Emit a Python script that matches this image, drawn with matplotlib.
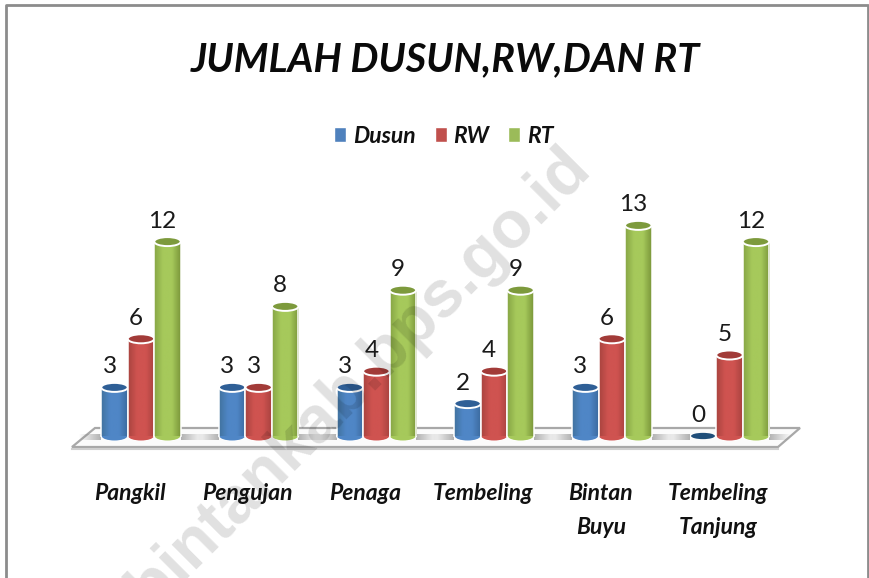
import numpy as np
import matplotlib
matplotlib.use('Agg')
import matplotlib.pyplot as plt
from matplotlib.colors import LinearSegmentedColormap
from matplotlib.patches import Ellipse, Polygon, Patch

categories = ['Pangkil', 'Pengujan', 'Penaga', 'Tembeling', 'Bintan\nBuyu', 'Tembeling\nTanjung']
dusun = [3, 3, 3, 2, 3, 0]
rw = [6, 3, 4, 4, 6, 5]
rt = [12, 8, 9, 9, 13, 12]
series_names = ['Dusun', 'RW', 'RT']

# side colours of each cylinder: edge, middle, edge
blue = ['#41739f', '#4f86c6', '#3c6b9f']
red = ['#a9443f', '#cf5350', '#a8423f']
green = ['#87a545', '#a6c95b', '#7a963a']
tops = ['#2f5f96', '#a23b38', '#7d9a3c']
legend_colors = ['#4f81bd', '#c0504d', '#9bbb59']

plt.rcParams['font.family'] = ['Lato', 'DejaVu Sans']

W, H = 869, 578
fig = plt.figure(figsize=(W / 100, H / 100), dpi=100)
ax = fig.add_axes([0, 0, 1, 1])

# axes covers the whole picture, 1 category = 117.7 px and 1 unit = 16.2 px
step, unit = 117.7, 16.2
x0, y0 = 141, 436
ax.set_xlim(-x0 / step, (W - x0) / step)
ax.set_ylim(-(H - y0) / unit, y0 / unit)
ax.axis('off')
bw = 26.5 / step
eh = 9 / unit


def px(x, y):
    return (x - x0) / step, (y0 - y) / unit


# frame
xs, ys = zip(*[px(*p) for p in [(6, 578), (6, 4.5), (868, 4.5), (868, 578)]])
ax.plot(xs, ys, color='#8c8c8c', lw=2, zorder=1)

# floor
floor = [px(72, 447), px(95, 428), px(800, 428), px(778, 447)]
ax.add_patch(Polygon(floor, closed=True, fc='#fbfbfb', ec='#a8a8a8', lw=1.6, zorder=2))
ax.plot(*zip(px(72, 449), px(778, 449)), color='#cfcfcf', lw=1.5, zorder=2)

# shadows on the floor
shade = np.zeros((1, 60, 4))
shade[..., :3] = 0.5
shade[..., 3] = np.linspace(0.6, 0, 60)
for i in range(len(categories)):
    for side in (1, -1):
        xa = i + side * 1.5 * bw
        xb = i + side * (1.5 * bw + 22 / step)
        ax.imshow(shade, extent=(xa, xb, -4 / unit, 2 / unit), aspect='auto', zorder=2.5,
                  interpolation='bilinear')


def cylinder(xc, val, cols, top, z):
    left, right = xc - bw / 2, xc + bw / 2
    if val == 0:
        ax.add_patch(Ellipse((xc, 0), bw * 0.9, eh * 0.7, fc='#1f4e79', ec='none', zorder=z))
        return
    cmap = LinearSegmentedColormap.from_list('c', [cols[0], cols[1], cols[1], cols[2]])
    bar = ax.bar(xc, val, bw, color='none', edgecolor='none', zorder=z)[0]
    grad = np.linspace(0, 1, 64).reshape(1, -1)
    ax.add_patch(Ellipse((xc, 0), bw, eh, fc=cols[1], ec='white', lw=1, zorder=z))
    im = ax.imshow(grad, extent=(left, right, 0, val), aspect='auto', cmap=cmap, zorder=z + 0.1)
    im.set_clip_path(bar)
    ax.add_patch(Ellipse((xc, 0), bw - 1 / step, eh, fc=cols[1], ec='none', zorder=z + 0.05))
    ax.plot([left, left], [0, val], color='white', lw=1.1, zorder=z + 0.2)
    ax.plot([right, right], [0, val], color='white', lw=1.1, zorder=z + 0.2)
    ax.add_patch(Ellipse((xc, val), bw, eh, fc=top, ec='white', lw=1.4, zorder=z + 0.3))


offsets = [-bw, 0, bw]
label_shift = -5 / step
cat_shift = -11 / step
for i in range(len(categories)):
    for j, (vals, cols) in enumerate(zip([dusun, rw, rt], [blue, red, green])):
        xc = i + offsets[j]
        cylinder(xc, vals[i], cols, tops[j], 3 + j)
        ax.text(xc + label_shift, vals[i] + 10 / unit, str(vals[i]), ha='center', va='bottom',
                fontsize=17.5, color='#1a1a1a', zorder=8)
    ax.text(i + cat_shift, -2.9, categories[i], ha='center', va='top', fontsize=16.5,
            style='italic', weight='bold', color='#111111', linespacing=1.74, zorder=8)

ax.text(*px(445, 60), 'JUMLAH DUSUN,RW,DAN RT', ha='center', va='center', fontsize=28.5,
        style='italic', weight='bold', color='#0a0a0a', zorder=8)

handles = [Patch(fc=c, ec='white') for c in legend_colors]
leg = ax.legend(handles, series_names, loc='center', bbox_to_anchor=(444 / W, 1 - 136 / H),
                bbox_transform=fig.transFigure, ncol=3, frameon=False,
                prop={'size': 16.5, 'style': 'italic', 'weight': 'bold'},
                handlelength=0.52, handleheight=0.6, handletextpad=0.3, columnspacing=0.83)
for t in leg.get_texts():
    t.set_color('#111111')

# site watermark across the chart
ax.text(*px(593, 172), '//bintankab.bps.go.id', ha='right', va='baseline', rotation=45,
        rotation_mode='anchor', fontsize=47.5, weight='bold', family=['Liberation Sans'],
        color='black', alpha=0.12, zorder=7, clip_on=True)

ax.set_xlim(-x0 / step, (W - x0) / step)
ax.set_ylim(-(H - y0) / unit, y0 / unit)
fig.savefig('out.png', dpi=100)
